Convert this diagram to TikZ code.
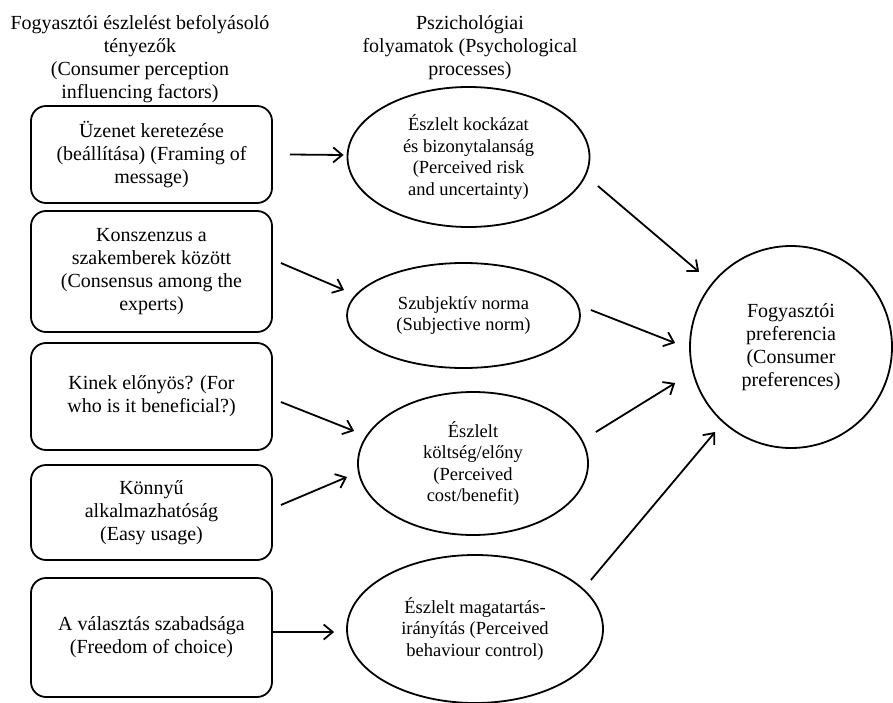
\documentclass[tikz,border=0pt]{standalone}
\usepackage{fontspec}
\setmainfont{Liberation Serif}
\usetikzlibrary{shapes.geometric,arrows.meta}

\tikzset{
  factorbox/.style={draw, line width=1.8pt, rounded corners=15pt, minimum width=241pt,
    inner sep=0pt, align=center, font=\fontsize{20}{23}\selectfont},
  processellipse/.style={draw, ellipse, line width=1.8pt, inner sep=0pt, align=center,
    font=\fontsize{18.5}{21.6}\selectfont},
  prefcircle/.style={draw, circle, line width=1.8pt, minimum size=202pt, inner sep=0pt,
    align=center, font=\fontsize{20}{23}\selectfont},
  headtext/.style={anchor=north, inner sep=0pt, align=center, font=\fontsize{20}{23}\selectfont},
  arr/.style={line width=1.8pt, -{Straight Barb[length=9pt,width=15pt]}},
}

\begin{document}
\begin{tikzpicture}[x=1pt,y=-1pt]
  \useasboundingbox (0,0) rectangle (893,703);

  % column headings
  \node[headtext] (h1) at (140,15) {Fogyasztói észlelést befolyásoló\\tényezők\\(Consumer perception\\influencing factors)};
  \node[headtext] (h2) at (470,15) {Pszichológiai\\folyamatok (Psychological\\processes)};

  % influencing factors
  \node[factorbox, minimum height=97pt] (b1) at (151.5,154.5) {Üzenet keretezése\\(beállítása) (Framing of\\message)};
  \node[factorbox, minimum height=121pt] (b2) at (151.5,271.5) {Konszenzus a\\szakemberek között\\(Consensus among the\\experts)};
  \node[factorbox, minimum height=107pt] (b3) at (151.5,396.5) {Kinek előnyös? (For\\who is it beneficial?)};
  \node[factorbox, minimum height=95pt] (b4) at (151.5,512.5) {Könnyű\\alkalmazhatóság\\(Easy usage)};
  \node[factorbox, minimum height=119pt] (b5) at (151.5,637.5) {A választás szabadsága\\(Freedom of choice)};

  % psychological processes
  \node[processellipse, minimum width=242pt, minimum height=140pt] (e1) at (468.5,157) {Észlelt kockázat\\és bizonytalanság\\(Perceived risk\\and uncertainty)};
  \node[processellipse, minimum width=233pt, minimum height=105pt] (e2) at (463.5,315.5) {Szubjektív norma\\(Subjective norm)};
  \node[processellipse, minimum width=230pt, minimum height=143pt] (e3) at (473,463.5) {Észlelt\\költség/előny\\(Perceived\\cost/benefit)};
  \node[processellipse, minimum width=256pt, minimum height=148pt] (e4) at (475,629) {Észlelt magatartás-\\irányítás (Perceived\\behaviour control)};

  % consumer preference
  \node[prefcircle] (c) at (791,347) {Fogyasztói\\preferencia\\(Consumer\\preferences)};

  \draw[arr] ([shift={(17,0)}]b1.east) -- ([shift={(-3,-2)}]e1.west);
  \draw[arr] ([shift={(8,-8.5)}]b2.east) -- ([shift={(-2,-25.5)}]e2.west);
  \draw[arr] ([shift={(8,5.5)}]b3.east) -- ([shift={(-3,-32.5)}]e3.west);
  \draw[arr] ([shift={(8,-7.5)}]b4.east) -- ([shift={(-10,13.5)}]e3.west);
  \draw[arr] ([shift={(0,-5.5)}]b5.east) -- ([shift={(-12,3)}]e4.west);

  \draw[arr] ([shift={(7.5,29)}]e1.east) -- ([shift={(10,-75)}]c.west);
  \draw[arr] ([shift={(10,-5.5)}]e2.east) -- ([shift={(-14,-4)}]c.west);
  \draw[arr] ([shift={(7,-31.5)}]e3.east) -- ([shift={(-14,36)}]c.west);
  \draw[arr] ([shift={(-13,-49)}]e4.east) -- ([shift={(26,85)}]c.west);
\end{tikzpicture}
\end{document}
